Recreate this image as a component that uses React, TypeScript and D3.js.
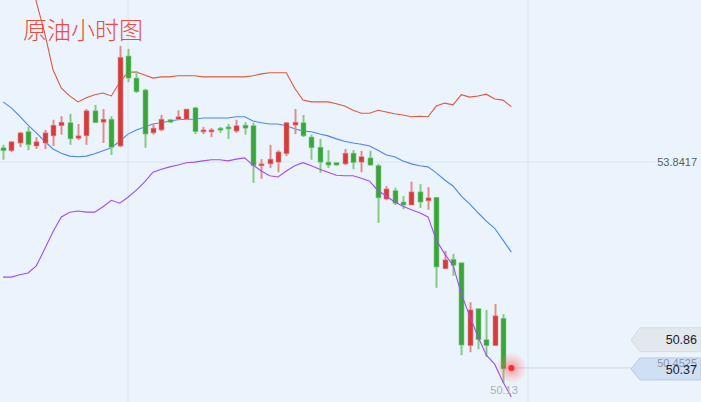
import React from "react";
import * as d3 from "d3";

const W = 701;
const H = 402;

const title = "原油小时图";

const opens = [54.08,54.03,54.16,54.35,54.11,54.16,54.28,54.45,54.50,54.24,54.28,54.70,54.51,54.56,54.11,55.62,55.25,55.05,54.33,54.38,54.55,54.56,54.56,54.75,54.35,54.35,54.41,54.43,54.36,54.46,54.45,53.78,53.81,53.84,53.98,54.46,54.50,54.26,54.09,53.84,53.83,53.81,53.99,53.84,53.91,53.78,53.22,53.36,53.17,53.12,53.34,53.19,53.25,52.05,52.21,52.15,50.76,51.38,50.86,50.76,51.22];
const highs = [54.13,54.19,54.35,54.43,54.26,54.38,54.55,54.61,54.65,54.48,54.73,54.80,54.73,54.61,55.79,55.74,55.37,55.07,54.48,54.63,54.56,54.71,54.73,54.77,54.43,54.41,54.43,54.48,54.55,54.51,54.50,53.89,54.13,54.04,54.51,54.73,54.63,54.30,54.23,54.04,53.84,54.06,54.04,54.03,54.03,53.81,53.44,53.41,53.27,53.51,53.47,53.42,53.25,52.35,52.30,52.15,51.49,51.38,51.36,51.46,51.29];
const lows = [53.88,54.01,54.09,54.04,54.06,54.06,54.11,54.30,54.13,54.21,54.13,54.50,54.16,53.96,54.09,55.18,55.00,54.08,54.30,54.36,54.50,54.55,54.55,54.31,54.31,54.26,54.33,54.23,54.33,54.30,53.49,53.56,53.74,53.67,53.94,54.31,54.26,53.88,53.66,53.74,53.78,53.79,53.72,53.67,53.78,52.82,53.20,53.12,53.05,53.12,53.07,53.04,51.73,52.05,51.93,50.60,50.65,50.70,50.57,50.76,50.13];
const closes = [54.03,54.18,54.33,54.13,54.18,54.33,54.46,54.51,54.23,54.28,54.70,54.50,54.56,54.09,55.60,55.25,55.02,54.31,54.41,54.56,54.51,54.60,54.73,54.35,54.38,54.38,54.38,54.40,54.45,54.41,53.78,53.81,53.89,54.01,54.50,54.51,54.28,54.08,53.84,53.79,53.79,53.99,53.83,53.93,53.79,53.24,53.39,53.15,53.12,53.34,53.17,53.24,52.08,52.20,52.11,50.77,51.36,50.86,50.76,51.26,50.37];

const upperBand = [57.74,57.65,57.48,57.15,56.53,56.01,55.39,55.08,54.95,54.85,54.92,54.97,55.00,54.95,55.18,55.35,55.35,55.30,55.25,55.27,55.27,55.29,55.29,55.29,55.27,55.27,55.27,55.27,55.27,55.27,55.29,55.32,55.34,55.34,55.34,55.08,54.88,54.85,54.85,54.85,54.82,54.78,54.71,54.66,54.66,54.71,54.68,54.65,54.63,54.60,54.61,54.60,54.78,54.83,54.80,54.97,54.93,54.95,54.98,54.90,54.88,54.77];
const middleBand = [54.85,54.75,54.61,54.46,54.33,54.19,54.06,53.99,53.94,53.93,53.94,53.98,54.03,54.08,54.19,54.31,54.38,54.43,54.48,54.50,54.53,54.55,54.56,54.56,54.58,54.58,54.58,54.58,54.60,54.60,54.53,54.50,54.48,54.48,54.45,54.40,54.36,54.35,54.31,54.28,54.23,54.19,54.16,54.14,54.11,54.04,53.96,53.93,53.86,53.81,53.78,53.76,53.66,53.54,53.44,53.27,53.14,52.99,52.85,52.73,52.53,52.33];
const lowerBand = [51.91,51.91,51.95,51.98,52.10,52.38,52.67,52.92,53.00,53.02,53.00,53.00,53.09,53.20,53.15,53.25,53.37,53.51,53.67,53.72,53.76,53.79,53.83,53.84,53.86,53.88,53.88,53.86,53.89,53.91,53.79,53.69,53.61,53.59,53.69,53.78,53.83,53.78,53.72,53.67,53.62,53.61,53.61,53.57,53.52,53.36,53.27,53.17,53.10,53.04,52.99,52.92,52.53,52.30,52.11,51.63,51.26,50.91,50.60,50.45,50.15,49.90];

const gridPrice = 53.8417;
const gridLabel = "53.8417";
const crossPrice = 50.4525;
const crossLabel = "50.4525";
const prevPrice = 50.86;
const prevLabel = "50.86";
const lastPrice = 50.37;
const lastLabel = "50.37";
const lowPrice = 50.13;
const lowLabel = "50.13";
const gridSlots = [15, 63];

const x = d3.scaleLinear().domain([0, 60]).range([3, 503]);
const y = d3.scaleLinear().domain([gridPrice, crossPrice]).range([162, 364]);

const UP = "#d43c3c";
const UP_WICK = "#e08c8c";
const DOWN = "#3aa53a";
const DOWN_WICK = "#86c986";

function bandPath(vals: number[]) {
  return d3
    .line<number>()
    .x((_, i) => x(i))
    .y((v) => y(v))(vals) as string;
}

function tagPath(x0: number, cy: number, h: number, x1: number) {
  const t = 9;
  return `M${x0},${cy} L${x0 + t},${cy - h / 2} L${x1},${cy - h / 2} L${x1},${cy + h / 2} L${x0 + t},${cy + h / 2} Z`;
}

export default function App() {
  const lastX = x(opens.length);
  const numFont = "'Liberation Sans', Arial, sans-serif";
  return (
    <svg
      width={W}
      height={H}
      style={{ position: "fixed", left: 0, top: 0, display: "block" }}
    >
      <defs>
        <radialGradient id="glow">
          <stop offset="0%" stopColor="#ff3030" stopOpacity={0.55} />
          <stop offset="45%" stopColor="#ff5a5a" stopOpacity={0.3} />
          <stop offset="100%" stopColor="#ff8080" stopOpacity={0} />
        </radialGradient>
        <clipPath id="clip">
          <rect x={0} y={0} width={W} height={H} />
        </clipPath>
      </defs>
      <rect x={0} y={0} width={W} height={H} fill="#ebf4fd" />
      {gridSlots.map((s) => (
        <line key={s} x1={x(s)} x2={x(s)} y1={0} y2={H} stroke="#dde6ef" strokeWidth={1} />
      ))}
      <line x1={0} x2={655} y1={y(gridPrice)} y2={y(gridPrice)} stroke="#dce5ee" strokeWidth={1} />
      <line x1={lastX} x2={632} y1={y(lastPrice) - 1} y2={y(lastPrice) - 1} stroke="#cfd8e2" strokeWidth={1} />
      <g clipPath="url(#clip)">
        <path d={bandPath(upperBand)} fill="none" stroke="#e2573f" strokeWidth={1.1} />
        <path d={bandPath(middleBand)} fill="none" stroke="#4a86f2" strokeWidth={1.1} />
        {opens.map((o, i) => {
          const c = closes[i];
          const up = c >= o;
          const cx = Math.round(x(i)) + 0.5;
          const top = y(Math.max(o, c));
          const bot = y(Math.min(o, c));
          const bh = Math.max(bot - top, 2);
          return (
            <g key={i}>
              <line
                x1={cx}
                x2={cx}
                y1={y(highs[i])}
                y2={y(lows[i])}
                stroke={up ? UP_WICK : DOWN_WICK}
                strokeWidth={2}
              />
              <rect
                x={cx - 2.5}
                y={top}
                width={5}
                height={bh}
                fill={up ? UP : DOWN}
                stroke={up ? UP_WICK : DOWN_WICK}
                strokeWidth={0.6}
              />
            </g>
          );
        })}
        <path d={bandPath(lowerBand)} fill="none" stroke="#a04ff2" strokeWidth={1.1} />
      </g>
      <circle cx={lastX} cy={y(lastPrice) - 1} r={16} fill="url(#glow)" />
      <circle cx={lastX} cy={y(lastPrice) - 1} r={3} fill="#ff2a2a" />
      <text
        x={23}
        y={39}
        fill="#ec4b3e"
        fontSize={24}
        fontFamily="'Noto Sans CJK SC', sans-serif"
        fontWeight={300}
      >
        {title}
      </text>
      <text x={697} y={y(gridPrice) + 4} textAnchor="end" fontSize={11} fill="#555d66" fontFamily={numFont}>
        {gridLabel}
      </text>
      <path d={tagPath(631, y(prevPrice), 24, 701)} fill="#e2e8ee" stroke="#d5dde5" strokeWidth={1} />
      <text x={697} y={y(prevPrice) + 4.5} textAnchor="end" fontSize={12.5} fill="#222" fontFamily={numFont}>
        {prevLabel}
      </text>
      <path d={tagPath(631, y(lastPrice), 22, 701)} fill="#cfe0f4" stroke="#b9c9db" strokeWidth={1} />
      <text x={697} y={y(crossPrice) + 3} textAnchor="end" fontSize={11} fill="#8a97a6" fontFamily={numFont}>
        {crossLabel}
      </text>
      <text x={697} y={y(lastPrice) + 5} textAnchor="end" fontSize={12.5} fill="#222" fontFamily={numFont}>
        {lastLabel}
      </text>
      <text x={lastX - 21} y={394} fontSize={11} fill="#a9b0b8" fontFamily={numFont}>
        {lowLabel}
      </text>
    </svg>
  );
}
